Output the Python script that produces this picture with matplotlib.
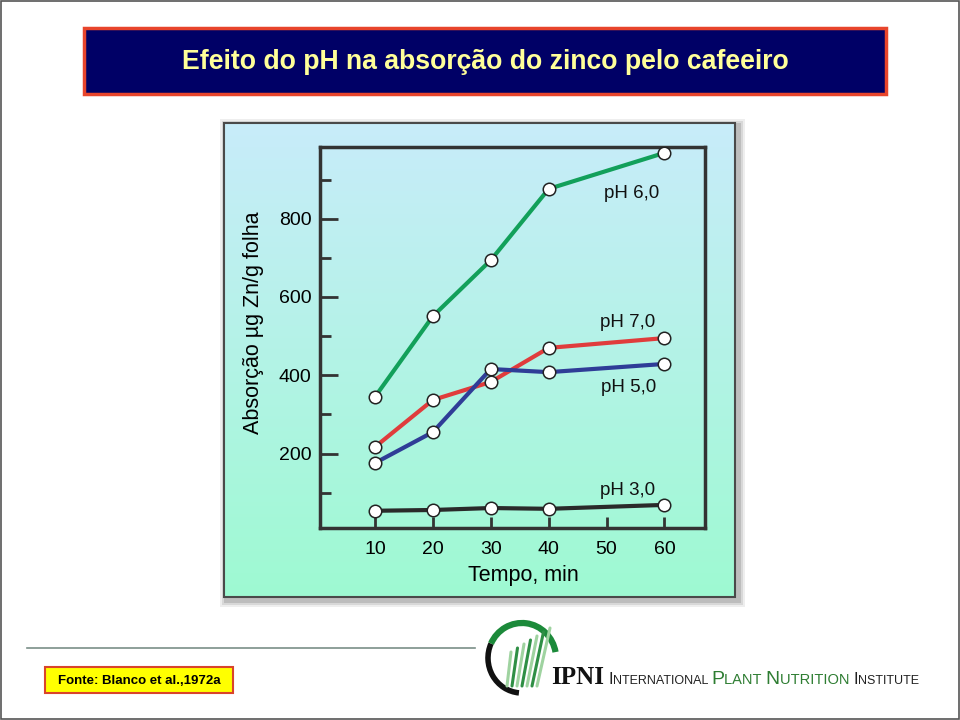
import numpy as np
import matplotlib
matplotlib.use("Agg")
import matplotlib.pyplot as plt
from matplotlib.patches import Rectangle, Arc

plt.rcParams['font.family'] = ['Liberation Sans', 'DejaVu Sans']

# === Dados ===
tempo = [10, 20, 30, 40, 60]
ph6 = [345, 551, 694, 876, 968]
ph7 = [217, 337, 383, 470, 495]
ph5 = [176, 255, 416, 408, 429]
ph3 = [54, 56, 61, 59, 69]

series = [
    ("pH 6,0", ph6, "#12a05a"),
    ("pH 7,0", ph7, "#e03c3c"),
    ("pH 5,0", ph5, "#2f3d97"),
    ("pH 3,0", ph3, "#2a2a2a"),
]
rotulos_pos = {"pH 6,0": (54.3, 863), "pH 7,0": (53.6, 534),
               "pH 5,0": (53.8, 370), "pH 3,0": (53.6, 105)}

titulo = "Efeito do pH na absorção do zinco pelo cafeeiro"
fonte = "Fonte: Blanco et al.,1972a"

W, H = 960, 720
fig = plt.figure(figsize=(9.6, 7.2), dpi=100)

# === Camada de fundo em pixels ===
bg = fig.add_axes([0, 0, 1, 1])
bg.set_xlim(0, W)
bg.set_ylim(H, 0)
bg.axis("off")

# borda do slide
bg.add_patch(Rectangle((1, 1), W - 2, H - 2, fill=False, ec="#555555", lw=1.2))

# caixa do título
bg.add_patch(Rectangle((84, 28), 802, 66, fc="#000066", ec="#e8452c", lw=2.5))
bg.text(485, 62, titulo, color="#ffff99", fontsize=19.2, fontweight="bold",
        ha="center", va="center")

# painel com gradiente e sombra
px0, py0, px1, py1 = 224, 123, 735, 597
for k, a in zip([7, 5, 3], [0.12, 0.18, 0.28]):
    bg.add_patch(Rectangle((px0 - k + 3, py0 - k + 3), (px1 - px0) + 2 * k, (py1 - py0) + 2 * k,
                           fc="#777777", ec="none", alpha=a, zorder=1))
grad = np.linspace(0, 1, 256)[:, None]
c_top = np.array([200, 236, 250]) / 255
c_bot = np.array([158, 250, 210]) / 255
img = c_top[None, None, :] * (1 - grad[:, :, None]) + c_bot[None, None, :] * grad[:, :, None]
bg.imshow(img, extent=(px0, px1, py1, py0), aspect="auto", zorder=2)
bg.add_patch(Rectangle((px0, py0), px1 - px0, py1 - py0, fill=False, ec="#4a4a4a", lw=1.5, zorder=3))
bg.set_xlim(0, W)
bg.set_ylim(H, 0)

# linha e caixa da fonte
bg.plot([27, 475], [648, 648], color="#7a8f88", lw=1.2)
bg.add_patch(Rectangle((45, 667), 188, 26, fc="#ffff00", ec="#d9442a", lw=1.5))
bg.text(139, 681, fonte, fontsize=9.5, fontweight="bold", ha="center", va="center")

# logotipo IPNI (aproximado)
bg.add_patch(Arc((522, 658), 68, 70, theta1=95, theta2=205, color="#111111", lw=4))
bg.add_patch(Arc((522, 658), 68, 70, theta1=205, theta2=350, color="#1c8a3a", lw=4.5))
for i in range(7):
    xb = 507 + i * 5
    bg.plot([xb, xb + 4 + i * 1.5], [686, 652 - i * 4],
            color="#2f8f45" if i % 2 else "#9fd3a0", lw=2.2, solid_capstyle="round")
bg.text(551, 678, "IPNI", fontsize=18, fontweight="bold", family="Liberation Serif",
        ha="left", va="center", color="#111111")

renderer = fig.canvas.get_renderer()
x_cur = 608
pecas = [("I", 12, "#222222"), ("NTERNATIONAL ", 9, "#222222"),
         ("P", 14, "#2e7d32"), ("LANT ", 10.5, "#2e7d32"),
         ("N", 14, "#2e7d32"), ("UTRITION ", 10.5, "#2e7d32"),
         ("I", 12, "#222222"), ("NSTITUTE", 9, "#222222")]
for txt, fs, cor in pecas:
    t = bg.text(x_cur, 684, txt, fontsize=fs, color=cor, ha="left", va="baseline")
    bb = t.get_window_extent(renderer=renderer)
    x_cur += bb.width * W / fig.bbox.width

# === Gráfico principal ===
ax = fig.add_axes([320 / W, 1 - 528 / H, 385 / W, 381 / H])
ax.patch.set_alpha(0)
for nome, vals, cor in series:
    ax.plot(tempo, vals, color=cor, lw=3, marker="o", ms=9,
            mfc="white", mec="#222222", mew=1.1, solid_capstyle="round", zorder=3)
    tx, ty = rotulos_pos[nome]
    ax.text(tx, ty, nome, fontsize=13.5, ha="center", va="center", color="#111111")

ax.set_xlim(0.5, 67)
ax.set_ylim(10, 983)
ax.set_xticks([10, 20, 30, 40, 50, 60])
ax.set_yticks([200, 400, 600, 800])
ax.set_yticks([100, 300, 500, 700, 900], minor=True)
ax.tick_params(axis="y", which="major", direction="in", length=13, width=2, color="#333333",
               labelsize=14, pad=6)
ax.tick_params(axis="y", which="minor", direction="in", length=8, width=2, color="#333333")
ax.tick_params(axis="x", direction="in", length=8, width=2, color="#333333",
               labelsize=14, pad=9)
for s in ax.spines.values():
    s.set_color("#333333")
    s.set_linewidth(2.5)
ax.set_xlabel("Tempo, min", fontsize=15.5)
ax.set_ylabel("Absorção µg Zn/g folha", fontsize=15.5)
ax.xaxis.set_label_coords(0.527, -0.097)
ax.yaxis.set_label_coords(-0.145, 0.54)

fig.savefig("out.png", dpi=100)
